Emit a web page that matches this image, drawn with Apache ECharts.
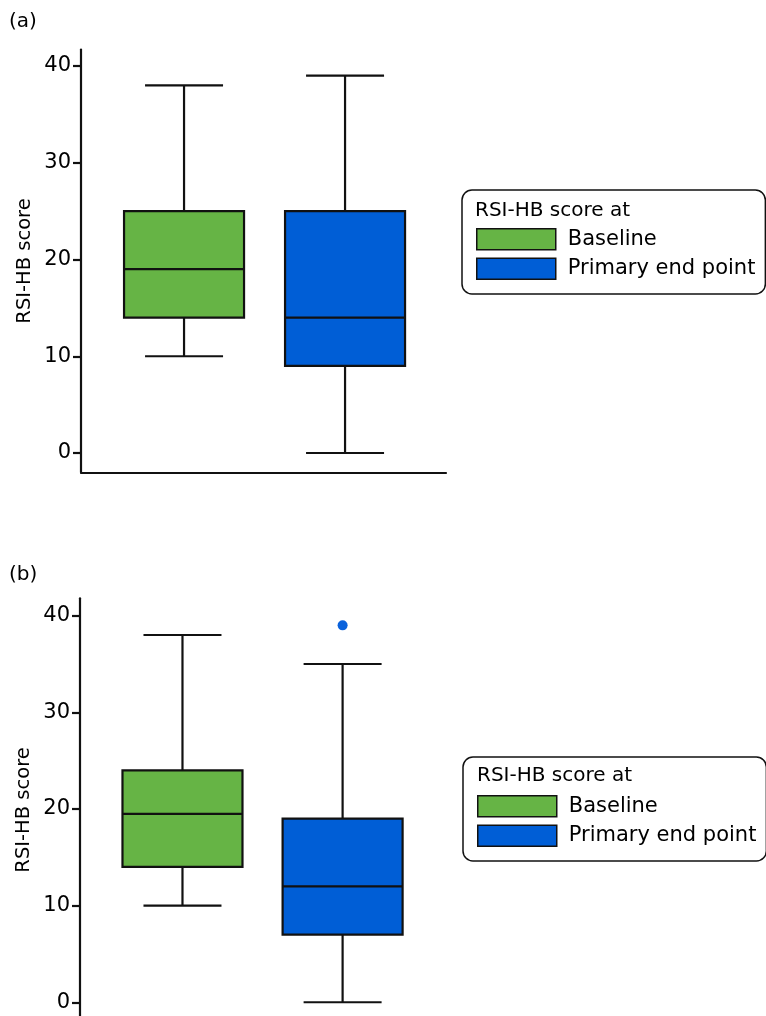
<!DOCTYPE html>
<html>
<head>
<meta charset="utf-8">
<script src="https://cdn.jsdelivr.net/npm/echarts@6/dist/echarts.min.js"></script>
<style>
  html, body { margin: 0; padding: 0; background: #fff; overflow: hidden; height: 1016px; }
  #chart { width: 766px; height: 1030px; }
</style>
</head>
<body>
<div id="chart"></div>
<script>
// ---- Data ----
const categories = ['Baseline', 'Primary end point'];
const categoryPos = [1, 2];
// [min, Q1, median, Q3, max]
const panelA_baseline = [10, 14, 19, 25, 38];
const panelA_primary  = [0, 9, 14, 25, 39];
const panelB_baseline = [10, 14, 19.5, 24, 38];
const panelB_primary  = [0, 7, 12, 19, 35];
const panelB_outliers = [[2, 39]];
const yTicks = [0, 10, 20, 30, 40];
const panelLabels = ['(a)', '(b)'];
const legendTitle = 'RSI-HB score at';
const yName = 'RSI-HB score';

const GREEN = '#66b445';
const BLUE = '#005ed6';
const INK = '#111111';
const TXT = '#000000';
const FONT = 'DejaVu Sans';

function renderBox(params, api) {
  const x = api.value(0);
  const lo = api.coord([x, api.value(1)]);
  const q1 = api.coord([x, api.value(2)]);
  const md = api.coord([x, api.value(3)]);
  const q3 = api.coord([x, api.value(4)]);
  const hi = api.coord([x, api.value(5)]);
  const hw = 60, cw = 39;
  const ls = { stroke: INK, lineWidth: 2.2 };
  return {
    type: 'group',
    children: [
      { type: 'line', shape: { x1: lo[0], y1: lo[1], x2: q1[0], y2: q1[1] }, style: ls },
      { type: 'line', shape: { x1: hi[0], y1: hi[1], x2: q3[0], y2: q3[1] }, style: ls },
      { type: 'line', shape: { x1: lo[0] - cw, y1: lo[1], x2: lo[0] + cw, y2: lo[1] }, style: ls },
      { type: 'line', shape: { x1: hi[0] - cw, y1: hi[1], x2: hi[0] + cw, y2: hi[1] }, style: ls },
      { type: 'rect', shape: { x: q3[0] - hw, y: q3[1], width: 2 * hw, height: q1[1] - q3[1] },
        style: { fill: api.visual('color'), stroke: INK, lineWidth: 2.2 } },
      { type: 'line', shape: { x1: md[0] - hw, y1: md[1], x2: md[0] + hw, y2: md[1] }, style: ls }
    ]
  };
}

function boxSeries(name, idx, stats, gi, color) {
  return {
    type: 'custom',
    name: name,
    xAxisIndex: gi,
    yAxisIndex: gi,
    itemStyle: { color: color },
    renderItem: renderBox,
    encode: { x: 0, y: [1, 2, 3, 4, 5] },
    data: [[categoryPos[idx]].concat(stats)]
  };
}

function xAxisCfg(gi) {
  return {
    type: 'value', gridIndex: gi, min: 0.36, max: 2.627,
    axisLine: { show: true, onZero: false, lineStyle: { color: INK, width: 2.2 } },
    axisTick: { show: false }, axisLabel: { show: false }, splitLine: { show: false }
  };
}
function yAxisCfg(gi, max) {
  return {
    type: 'value', gridIndex: gi, min: -2, max: max,
    name: yName, nameLocation: 'middle', nameGap: 46,
    nameTextStyle: { fontFamily: FONT, fontSize: 19.5, color: TXT },
    axisLine: { show: true, onZero: false, lineStyle: { color: INK, width: 2.2 } },
    axisTick: { show: true, length: 8, customValues: yTicks, lineStyle: { color: INK, width: 2.2 } },
    axisLabel: { customValues: yTicks, fontFamily: FONT, fontSize: 21, color: TXT, margin: 10 },
    splitLine: { show: false }
  };
}
function legendCfg(top, left) {
  return {
    orient: 'vertical', left: left, top: top,
    data: categories,
    icon: 'rect', itemWidth: 79, itemHeight: 21, itemGap: 7,
    padding: [38, 10, 14, 14],
    borderColor: INK, borderWidth: 1.5, borderRadius: 10,
    itemStyle: { borderColor: INK, borderWidth: 1.5 },
    textStyle: { fontFamily: FONT, fontSize: 21, color: TXT, padding: [0, 0, 0, 7] },
    selectedMode: false
  };
}

const chart = echarts.init(document.getElementById('chart'), null, { renderer: 'canvas' });
chart.setOption({
  backgroundColor: '#fff',
  animation: false,
  title: [
    { text: panelLabels[0], left: 9, top: 12, padding: 0, textStyle: { fontFamily: FONT, fontSize: 20, fontWeight: 'normal', color: TXT } },
    { text: panelLabels[1], left: 9, top: 565, padding: 0, textStyle: { fontFamily: FONT, fontSize: 20, fontWeight: 'normal', color: TXT } },
    { text: legendTitle, left: 475, top: 201, padding: 0, textStyle: { fontFamily: FONT, fontSize: 20, fontWeight: 'normal', color: TXT } },
    { text: legendTitle, left: 477, top: 766, padding: 0, textStyle: { fontFamily: FONT, fontSize: 20, fontWeight: 'normal', color: TXT } }
  ],
  legend: [legendCfg(190, 462), legendCfg(757, 463)],
  grid: [
    { left: 81, right: 320, top: 49.6, height: 422.75 },
    { left: 80, right: 323, top: 598.3, height: 423.3 }
  ],
  xAxis: [xAxisCfg(0), xAxisCfg(1)],
  yAxis: [yAxisCfg(0, 41.7), yAxisCfg(1, 41.8)],
  series: [
    boxSeries(categories[0], 0, panelA_baseline, 0, GREEN),
    boxSeries(categories[1], 1, panelA_primary, 0, BLUE),
    boxSeries(categories[0], 0, panelB_baseline, 1, GREEN),
    boxSeries(categories[1], 1, panelB_primary, 1, BLUE),
    {
      type: 'scatter', name: 'Outlier', xAxisIndex: 1, yAxisIndex: 1,
      symbolSize: 10, itemStyle: { color: '#0a62dc', opacity: 1 },
      data: panelB_outliers
    }
  ]
});
</script>
</body>
</html>
